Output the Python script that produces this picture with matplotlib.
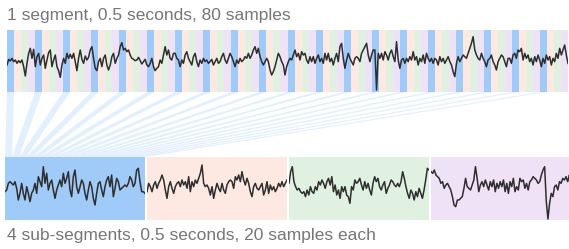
import numpy as np
import matplotlib
matplotlib.use("Agg")
import matplotlib.pyplot as plt
from matplotlib.patches import Polygon

# ---------------- data ----------------
top_title = "1 segment, 0.5 seconds, 80 samples"
bottom_title = "4 sub-segments, 0.5 seconds, 20 samples each"
n_samples = 80
n_sub = 4
sub_colors = ["#a0cbf9", "#fde9e1", "#e1f1e1", "#efe2f7"]

# full 0.5 s segment (amplitude, arbitrary units)
segment = [
    -10, 7, 2, 10, 0, 5, -5, 3, -3, 5, -15, -43, -5, 25, 40, 10, 37, -15, 15, 25,
    -10, 10, 20, -20, 5, 27, 35, -15, 5, 20, -15, -27, -47, -10, 10, -5, 25, 10, 22, 10,
    25, 0, -27, 10, 35, 7, -5, 17, 5, 13, 35, 45, 10, -20, -27, 0, 10, -15, 10, 20,
    -10, -25, -10, 15, 25, -5, 10, 20, 45, 57, 35, 40, 30, 35, 20, 10, 7, 3, 5, 13,
    3, -7, 0, 7, -10, -15, -5, 10, -15, -27, -20, -15, 5, -5, 20, 45, 20, 35, 10, 5,
    25, 25, 10, 5, -15, 5, -5, 20, 30, 10, 0, -10, 15, 25, 0, -15, 5, -5, 10, 0,
    5, -5, 0, 7, -10, 0, 10, -5, 0, 15, 25, 5, -5, 10, 25, 15, 0, -15, 5, -5,
    10, 0, 5, 15, 10, 25, 10, 20, 35, 45, 25, 40, 15, 0, -10, 0, 10, 0, -25, -40,
    -30, -15, 5, 25, 15, 0, -10, -40, -15, 0, 10, 5, 20, 35, 15, 25, 5,
    30, 20, 25, 5, -5, 15, 0, 15, -5, 10, 20, 0, 10, -5, 25, 5, 25, 0, 10, -10,
    10, 25, 0, 45, 55, 10, -20, 5, 25, 10, 0, -10, 10, 15, 10, 0, 25, 35, 45, 55,
    20, 0, 20, 35, 35, -85, 25, 10, 25, 5, 30, 20, 5, 25, 35, 15, 0, 60, 5, -20,
    5, 10, -5, 10, 0, 15, 5, 30, 5, 15, -10, 10, 0, 20, -5, 25, 10, 0, 10, -5,
    10, 5, -10, 15, 0, 10, -5, 5, 15, 0, -10, -30, -45, -5, 15, 0, 10, 20, 15, 10,
    25, 40, 55, 75, 35, 20, 10, 5, 25, 10, 0, -15, 5, 10, 20, 0, -10, -25, 0, 10,
    20, 15, 0, -15, 10, 10, -5, 20, 25, 10, 35, 30, 40, 5, 25, 10, 20, 0, 10, -10,
    15, 0, 20, 5, -15, 10, -5, 20, 5, 15, -10, 10, 0, 25, 10, 40, 20, 35, 50, 20, -5,
]

# the four sub-segments (amplitude, arbitrary units)
sub_blue = [
    -15, -10, 10, 15, 10, 5, 15, -5, -40, -20, 10, -20, -40, 0, -20, -45, -20, -10, 10, -20,
    30, 15, 0, 60, 10, 40, -10, 10, 20, -10, -35, -10, 5, 20, 0, 40, 10, 25, 45, -10,
    -30, 30, 50, 0, -20, 0, 20, 10, -20, -40, -10, 15, 0, -35, -55, -20, 10, 15, -10, -30,
    0, 20, 30, 0, 35, -30, -5, 25, 15, -10, -5, 0, 5, 0, 10, 30, 20, 0, 10, 50,
    55, 15, -15, -15, -20,
]
sub_pink = [
    -15, 10, 0, -15, 5, 15, -5, 10, 20, 35, 20, -10, -35, 0, 15, -5, -20, 0, 10, 15,
    0, 20, 5, 15, -5, 30, -15, 15, 0, 20, 10, 25, 40, 65, 10, 0, 5, -5, -25, 0,
    -35, -10, 10, -5, -15, 10, -10, -20, 5, 15, 20, 15, -5, 30, 20, 35, 15, 45, 20, 5,
    25, 10, -15, -30, 0, 10, -5, -10, 0, 10, -25, -10, 15, -20, 5, -10, 0, -15, -5, 10,
    0, 15, 0, 10, 20,
]
sub_green = [
    10, 45, 60, 15, 0, -10, -5, -15, -20, -15, -30, -10, -25, 0, -15, -20, 0, -10, 15, 5,
    20, 10, -5, 15, 25, 5, 30, -15, 5, -25, -10, -35, 0, -15, 0, -25, -30, -50, 0, -10,
    20, 10, 15, 25, 5, -10, 15, -5, 10, -10, -25, 10, 30, 15, 25, 0, -10, 5, 15, -20,
    -5, 5, 20, 15, 5, 0, 10, 0, 15, 45, 25, 0, -20, -35, -10, -20, -40, -15, -30, -5,
    -20, -35, -10, 20, 55, 50,
]
sub_purple = [
    45, 40, 50, 35, 30, 25, 10, 15, -5, 5, 10, 0, -10, -30, -55, -60, -40, -40, -35, -30,
    -5, 25, 0, -5, -10, 5, 20, 60, 25, -15, 5, 15, 0, 20, 5, -10, 15, 0, 20, -15,
    10, -5, 15, 0, 20, -15, 10, -20, 15, 0, 25, -15, 0, -10, 25, 15, 20, -5, 10, -10,
    15, 20, 30, 25, 20, 10, 15, 35, 50, 60, -45, -97, -50, -20, -30, 0, 5, -10, 15, 10,
    25, 20, 30, 15, 35, 20,
]
subsegments = [sub_blue, sub_pink, sub_green, sub_purple]

# ---------------- layout ----------------
W, H = 569, 249
fig = plt.figure(figsize=(W / 100, H / 100), dpi=100)
fig.patch.set_facecolor("white")

text_color = "#767676"
line_color = "#2e2e2e"
font = ["Liberation Sans", "DejaVu Sans"]


def box(px_left, px_top, px_w, px_h):
    return [px_left / W, 1 - (px_top + px_h) / H, px_w / W, px_h / H]


def clean(ax):
    ax.set_xticks([])
    ax.set_yticks([])
    for s in ax.spines.values():
        s.set_visible(False)


# top strip
ax_top = fig.add_axes(box(7, 30, 561, 62))
clean(ax_top)
ax_top.set_xlim(0, n_samples)
ax_top.set_ylim(-91, 95)
for k in range(n_samples):
    ax_top.axvspan(k, k + 1, color=sub_colors[k % n_sub], lw=0, zorder=0)
ax_top.plot(np.linspace(0, n_samples, len(segment)), segment,
            color=line_color, lw=1.1, zorder=3)

# bottom sub-segments
sub_len = n_samples // n_sub
ax_subs = []
for j, sig in enumerate(subsegments):
    ax = fig.add_axes(box(5 + 142 * j, 157, 140, 63))
    clean(ax)
    ax.set_facecolor(sub_colors[j])
    ax.set_xlim(0, sub_len)
    ax.set_ylim(-100, 89)
    ax.plot(np.linspace(0, sub_len, len(sig)), sig,
            color=line_color, lw=1.1, zorder=3)
    ax_subs.append(ax)

# fan of bands: every 4th sample of the segment -> its slot in the first sub-segment
fig.canvas.draw()
to_fig = fig.transFigure.inverted()
ax_b = ax_subs[0]
y_top_bottom = ax_top.get_ylim()[0]
y_sub_top = ax_b.get_ylim()[1]
for i in range(sub_len):
    k = i * n_sub
    p1 = ax_top.transData.transform((k, y_top_bottom))
    p2 = ax_top.transData.transform((k + 1, y_top_bottom))
    q2 = ax_b.transData.transform((i + 1, y_sub_top))
    q1 = ax_b.transData.transform((i, y_sub_top))
    pts = to_fig.transform(np.array([p1, p2, q2, q1]))
    fig.add_artist(Polygon(pts, closed=True, transform=fig.transFigure,
                           facecolor=sub_colors[0], alpha=0.3, lw=0, zorder=0))

fig.text(7 / W, 1 - 20 / H, top_title, color=text_color, fontsize=12.5,
         family=font, va="baseline", ha="left")
fig.text(7 / W, 1 - 240 / H, bottom_title, color=text_color, fontsize=12.5,
         family=font, va="baseline", ha="left")

fig.savefig("out.png", dpi=100)
